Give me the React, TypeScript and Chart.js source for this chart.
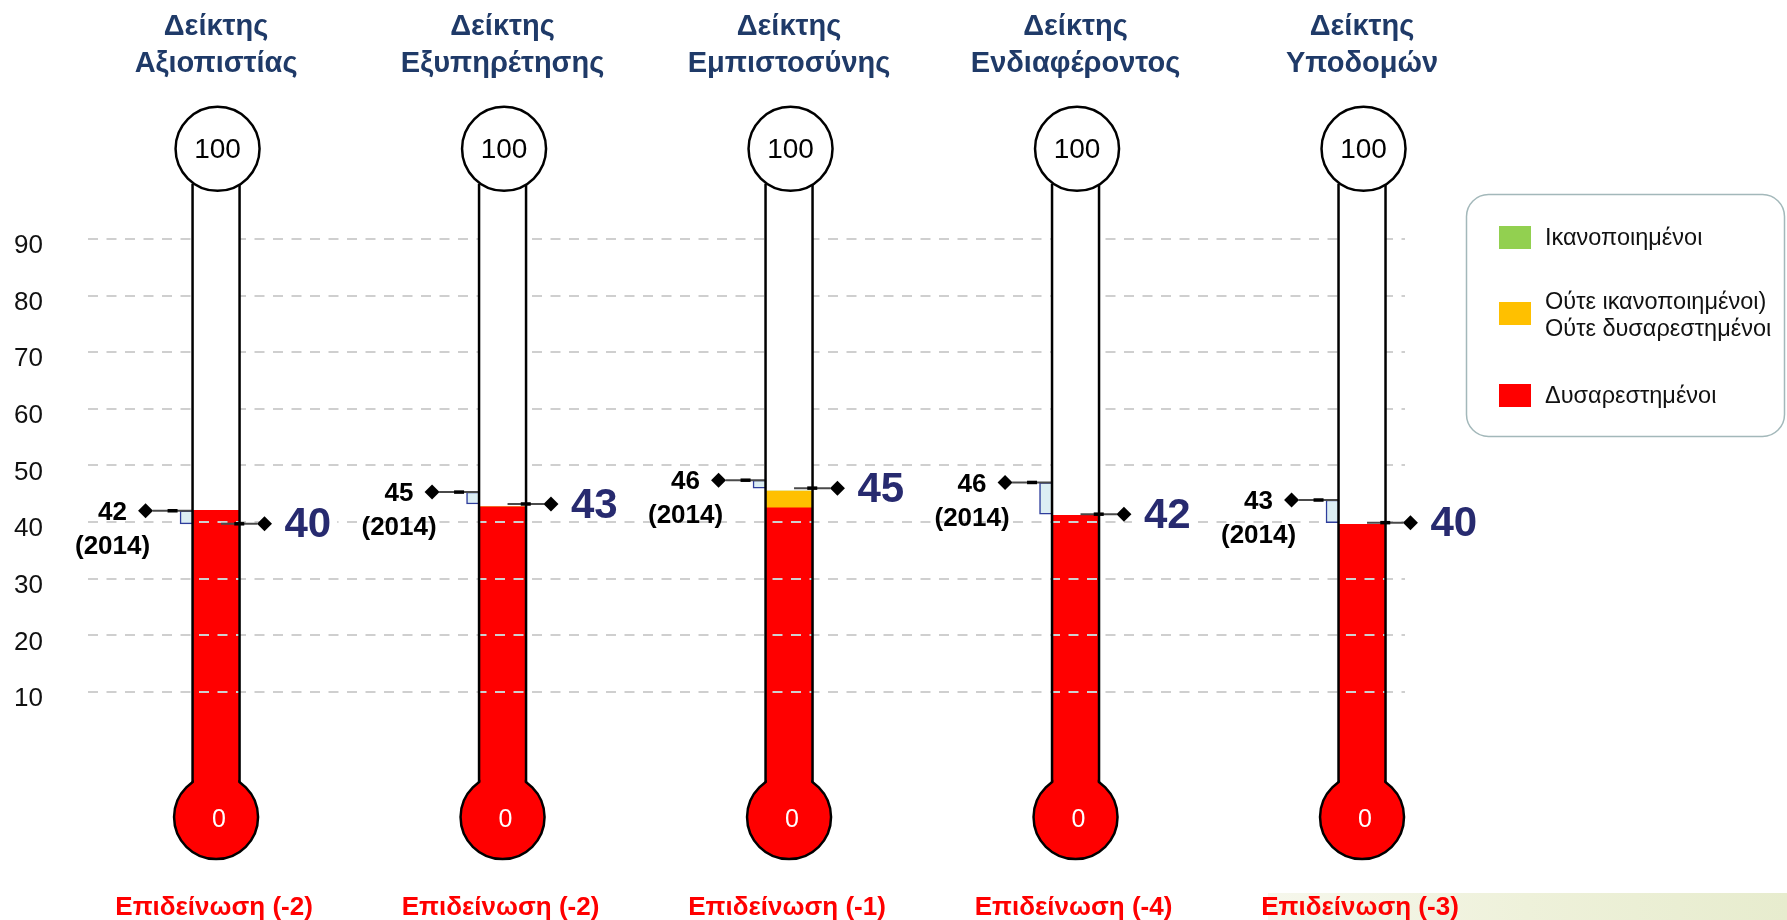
import React, { useEffect, useRef } from 'react';
import { Chart, registerables } from 'chart.js';

Chart.register(...registerables);

// ---------------- data ----------------
const TITLE_LINE1 = 'Δείκτης';
const INDEX_NAMES = ['Αξιοπιστίας', 'Εξυπηρέτησης', 'Εμπιστοσύνης', 'Ενδιαφέροντος', 'Υποδομών'];
const POSITIONS = [0, 1, 2, 3, 4];
const DISSATISFIED = [42.1, 42.7, 42.5, 41.2, 39.6];
const NEUTRAL = [0, 0, 3.0, 0, 0];
const SATISFIED = [0, 0, 0, 0, 0];
const CURRENT_SCORE = [39.7, 43.2, 46.0, 41.4, 39.9];
const CURRENT_LABELS = ['40', '43', '45', '42', '40'];
const PREV_SCORE = [42.0, 45.3, 47.4, 47.0, 43.9];
const PREV_LABELS = ['42', '45', '46', '46', '43'];
const PREV_YEAR = '(2014)';
const CHANGE_LABELS = ['Επιδείνωση (-2)', 'Επιδείνωση (-2)', 'Επιδείνωση (-1)', 'Επιδείνωση (-4)', 'Επιδείνωση (-3)'];
const Y_TICKS = [10, 20, 30, 40, 50, 60, 70, 80, 90];
const GAUGE_MIN = 0;
const GAUGE_MAX = 100;
const GAUGE_MIN_LABEL = '0';
const GAUGE_MAX_LABEL = '100';
const LEGEND_LABELS = [['Ικανοποιημένοι'], ['Ούτε ικανοποιημένοι)', 'Ούτε δυσαρεστημένοι'], ['Δυσαρεστημένοι']];
const LEGEND_COLORS = ['#92D050', '#FFC000', '#FF0000'];

// ---------------- style / layout ----------------
const FONT = '"Liberation Sans", Arial, Helvetica, sans-serif';
const X_MIN = -0.447;
const X_MAX = 4.15;
const Y_MIN = -20;
const Y_MAX = 110;
const TUBE_HALF = 23.5;
const BULB_R = 42;
const OUTLINE = 2.5;
const LEFT_MARK_OFF = -0.246;
const RIGHT_MARK_OFF = 0.169;
const BRACKET_OFF = -0.103;
const FILL_BASE = -6;
const GRID_COLOR = '#CFCFCF';
const GRID_DASH = [10, 8.5];
const PX0 = 748.6;
const PX_PER_UNIT = 5.6625;
const PAD_TOP = PX0 - Y_MAX * PX_PER_UNIT;
const PAD_BOTTOM = 920 - (PX0 - Y_MIN * PX_PER_UNIT);
const TOP_CIRCLE_OFF = 33.5;
const BULB_OFF = 68.5;

const alignPx = (p: number, w: number) => Math.round(p - w / 2) + w / 2;

function markerLine(ctx: CanvasRenderingContext2D, x1: number, x2: number, y: number) {
  ctx.save();
  ctx.setLineDash([]);
  ctx.strokeStyle = '#4a4a4a';
  ctx.lineWidth = 2;
  ctx.beginPath();
  ctx.moveTo(x1, y);
  ctx.lineTo(x2, y);
  ctx.stroke();
  const mid = (x1 + x2) / 2;
  ctx.strokeStyle = '#000';
  ctx.lineWidth = 3.5;
  ctx.beginPath();
  ctx.moveTo(mid - 5, y);
  ctx.lineTo(mid + 5, y);
  ctx.stroke();
  ctx.restore();
}

const thermoPlugin = {
  id: 'thermo',
  beforeDraw(chart: any) {
    const ctx: CanvasRenderingContext2D = chart.ctx;
    ctx.save();
    ctx.fillStyle = '#fff';
    ctx.fillRect(0, 0, chart.width, chart.height);
    const g = ctx.createLinearGradient(1268, 0, 1787, 0);
    g.addColorStop(0, '#F6F7EC');
    g.addColorStop(0.5, '#EEF1DA');
    g.addColorStop(1, '#E7ECCE');
    ctx.fillStyle = g;
    ctx.fillRect(1268, 893, 519, 27);
    ctx.restore();
  },
  beforeDatasetsDraw(chart: any) {
    const ctx: CanvasRenderingContext2D = chart.ctx;
    const xs = chart.scales.x;
    const ys = chart.scales.y;
    const y0 = ys.getPixelForValue(GAUGE_MIN);
    const y100 = ys.getPixelForValue(GAUGE_MAX);
    const topCy = y100 - TOP_CIRCLE_OFF;
    const bulbCy = y0 + BULB_OFF;
    const dj = Math.sqrt(BULB_R * BULB_R - TUBE_HALF * TUBE_HALF);
    ctx.save();
    ctx.fillStyle = '#fff';
    POSITIONS.forEach((p, i) => {
      const cx = xs.getPixelForValue(p);
      ctx.fillRect(cx - TUBE_HALF, topCy + dj - 2, TUBE_HALF * 2, bulbCy - topCy - 2 * dj + 4);
      // white box behind current value label
      ctx.font = `bold 42px ${FONT}`;
      const w = ctx.measureText(CURRENT_LABELS[i]).width;
      const xr = xs.getPixelForValue(p + RIGHT_MARK_OFF);
      const yc = ys.getPixelForValue(CURRENT_SCORE[i]);
      ctx.fillRect(xr + 8, yc - 12, 12 + w + 6, 24);
    });
    ctx.restore();
  },
  afterDatasetsDraw(chart: any) {
    const ctx: CanvasRenderingContext2D = chart.ctx;
    const area = chart.chartArea;
    const xs = chart.scales.x;
    const ys = chart.scales.y;
    const y0 = ys.getPixelForValue(GAUGE_MIN);
    const y100 = ys.getPixelForValue(GAUGE_MAX);
    const topCy = y100 - TOP_CIRCLE_OFF;
    const bulbCy = y0 + BULB_OFF;
    const dj = Math.sqrt(BULB_R * BULB_R - TUBE_HALF * TUBE_HALF);

    POSITIONS.forEach((p, i) => {
      const cx = xs.getPixelForValue(p);
      // grid lines visible over the coloured fill
      const fillTop = ys.getPixelForValue(DISSATISFIED[i] + NEUTRAL[i] + SATISFIED[i]);
      const fillBottom = ys.getPixelForValue(FILL_BASE);
      ctx.save();
      ctx.beginPath();
      ctx.rect(cx - TUBE_HALF, fillTop, TUBE_HALF * 2, fillBottom - fillTop);
      ctx.clip();
      ctx.strokeStyle = GRID_COLOR;
      ctx.lineWidth = 2;
      ctx.setLineDash(GRID_DASH);
      ys.ticks.forEach((t: any) => {
        const y = alignPx(ys.getPixelForValue(t.value), 2);
        ctx.beginPath();
        ctx.moveTo(area.left, y);
        ctx.lineTo(area.right, y);
        ctx.stroke();
      });
      ctx.restore();

      // marker lines
      const yc = ys.getPixelForValue(CURRENT_SCORE[i]);
      const xr = xs.getPixelForValue(p + RIGHT_MARK_OFF);
      markerLine(ctx, cx + 5, xr - 7, yc);
      const yp = ys.getPixelForValue(PREV_SCORE[i]);
      const xl = xs.getPixelForValue(p + LEFT_MARK_OFF);
      markerLine(ctx, xl + 7, cx - TUBE_HALF, yp);

      ctx.save();
      ctx.setLineDash([]);
      ctx.lineWidth = OUTLINE;
      ctx.strokeStyle = '#000';
      // bulb
      ctx.beginPath();
      ctx.arc(cx, bulbCy, BULB_R, 0, Math.PI * 2);
      ctx.fillStyle = '#FF0000';
      ctx.fill();
      ctx.stroke();
      ctx.fillStyle = '#FF0000';
      ctx.fillRect(cx - TUBE_HALF + 1.3, bulbCy - BULB_R - 3, 2 * (TUBE_HALF - 1.3), BULB_R - dj + 5);
      // tube sides
      ctx.beginPath();
      ctx.moveTo(cx - TUBE_HALF, topCy + dj);
      ctx.lineTo(cx - TUBE_HALF, bulbCy - dj);
      ctx.moveTo(cx + TUBE_HALF, topCy + dj);
      ctx.lineTo(cx + TUBE_HALF, bulbCy - dj);
      ctx.stroke();
      // top circle
      ctx.beginPath();
      ctx.arc(cx + 1.5, topCy, BULB_R, 0, Math.PI * 2);
      ctx.fillStyle = '#fff';
      ctx.fill();
      ctx.stroke();
      ctx.textAlign = 'center';
      ctx.textBaseline = 'middle';
      ctx.fillStyle = '#000';
      ctx.font = `28px ${FONT}`;
      ctx.fillText(GAUGE_MAX_LABEL, cx + 1.5, topCy + 1);
      ctx.fillStyle = '#fff';
      ctx.font = `25px ${FONT}`;
      ctx.fillText(GAUGE_MIN_LABEL, cx + 3, bulbCy + 3);
      ctx.restore();
    });
  },
  afterDraw(chart: any) {
    const ctx: CanvasRenderingContext2D = chart.ctx;
    const xs = chart.scales.x;
    const ys = chart.scales.y;
    ctx.save();
    POSITIONS.forEach((p, i) => {
      const cx = xs.getPixelForValue(p);
      // titles
      ctx.textAlign = 'center';
      ctx.textBaseline = 'alphabetic';
      ctx.fillStyle = '#1F3A68';
      ctx.font = `bold 29px ${FONT}`;
      ctx.fillText(TITLE_LINE1, cx, 35);
      ctx.fillText(INDEX_NAMES[i], cx, 72);
      // bottom change labels
      ctx.fillStyle = '#FF0000';
      ctx.font = `bold 26px ${FONT}`;
      ctx.fillText(CHANGE_LABELS[i], cx - 2, 915);
      // previous labels
      const yp = ys.getPixelForValue(PREV_SCORE[i]);
      const xl = xs.getPixelForValue(p + LEFT_MARK_OFF);
      ctx.textBaseline = 'middle';
      ctx.fillStyle = '#000';
      ctx.font = `bold 26px ${FONT}`;
      ctx.fillText(PREV_LABELS[i], xl - 33, yp + 2);
      ctx.fillText(PREV_YEAR, xl - 33, yp + 36);
      // current labels
      const yc = ys.getPixelForValue(CURRENT_SCORE[i]);
      const xr = xs.getPixelForValue(p + RIGHT_MARK_OFF);
      ctx.textAlign = 'left';
      ctx.fillStyle = '#272A6F';
      ctx.font = `bold 42px ${FONT}`;
      ctx.fillText(CURRENT_LABELS[i], xr + 20, yc + 2);
    });

    // legend
    ctx.beginPath();
    (ctx as any).roundRect(1466.5, 194.5, 318, 242, 22);
    ctx.fillStyle = '#fff';
    ctx.fill();
    ctx.strokeStyle = '#A3B8BA';
    ctx.lineWidth = 1.5;
    ctx.stroke();
    const swatchTop = [226, 302, 384];
    const textYs = [[239], [303, 330], [397]];
    LEGEND_LABELS.forEach((lines, k) => {
      ctx.fillStyle = LEGEND_COLORS[k];
      ctx.fillRect(1499, swatchTop[k], 32, 23);
      ctx.fillStyle = '#111';
      ctx.font = `23.5px ${FONT}`;
      ctx.textAlign = 'left';
      ctx.textBaseline = 'middle';
      lines.forEach((ln, j) => ctx.fillText(ln, 1545, textYs[k][j]));
    });
    ctx.restore();
  },
};

export default function App() {
  const ref = useRef<HTMLCanvasElement>(null);
  useEffect(() => {
    document.body.style.margin = '0';
    const canvas = ref.current;
    if (!canvas) return;
    Chart.defaults.font.family = FONT;
    const chart = new Chart(canvas, {
      type: 'bar',
      data: {
        datasets: [
          {
            type: 'scatter',
            label: '2014',
            data: POSITIONS.map((p, i) => ({ x: p + LEFT_MARK_OFF, y: PREV_SCORE[i] })),
            pointStyle: 'rectRot',
            pointRadius: 7.5,
            pointHoverRadius: 7.5,
            pointBackgroundColor: '#000',
            pointBorderWidth: 0,
            backgroundColor: '#000',
            borderColor: '#000',
            clip: false,
            order: 0,
          } as any,
          {
            type: 'scatter',
            label: 'current',
            data: POSITIONS.map((p, i) => ({ x: p + RIGHT_MARK_OFF, y: CURRENT_SCORE[i] })),
            pointStyle: 'rectRot',
            pointRadius: 7.5,
            pointHoverRadius: 7.5,
            pointBackgroundColor: '#000',
            pointBorderWidth: 0,
            backgroundColor: '#000',
            borderColor: '#000',
            clip: false,
            order: 0,
          } as any,
          {
            type: 'bar',
            label: 'change',
            data: POSITIONS.map((p, i) => ({ x: p + BRACKET_OFF, y: [CURRENT_SCORE[i], PREV_SCORE[i]] })),
            backgroundColor: '#DCEEF3',
            borderColor: '#2E3D9C',
            borderWidth: 1.5,
            borderSkipped: false,
            barThickness: 13,
            grouped: false,
            order: 1,
          } as any,
          {
            type: 'bar',
            label: LEGEND_LABELS[2][0],
            data: POSITIONS.map((p, i) => ({ x: p, y: DISSATISFIED[i] })),
            backgroundColor: LEGEND_COLORS[2],
            borderWidth: 0,
            barThickness: 46,
            grouped: false,
            stack: 'fill',
            base: FILL_BASE,
            order: 2,
          } as any,
          {
            type: 'bar',
            label: LEGEND_LABELS[1].join(' '),
            data: POSITIONS.map((p, i) => ({ x: p, y: NEUTRAL[i] })),
            backgroundColor: LEGEND_COLORS[1],
            borderWidth: 0,
            barThickness: 46,
            grouped: false,
            stack: 'fill',
            order: 2,
          } as any,
          {
            type: 'bar',
            label: LEGEND_LABELS[0][0],
            data: POSITIONS.map((p, i) => ({ x: p, y: SATISFIED[i] })),
            backgroundColor: LEGEND_COLORS[0],
            borderWidth: 0,
            barThickness: 46,
            grouped: false,
            stack: 'fill',
            order: 2,
          } as any,
        ],
      },
      options: {
        responsive: false,
        animation: false,
        events: [],
        layout: { padding: { left: 14, right: 382, top: PAD_TOP, bottom: PAD_BOTTOM } },
        plugins: { legend: { display: false }, tooltip: { enabled: false }, title: { display: false } },
        scales: {
          x: { type: 'linear', min: X_MIN, max: X_MAX, display: false, offset: false },
          y: {
            type: 'linear',
            min: Y_MIN,
            max: Y_MAX,
            afterBuildTicks: (axis: any) => {
              axis.ticks = Y_TICKS.map((v) => ({ value: v }));
            },
            afterFit: (axis: any) => {
              axis.width = 74;
            },
            grid: { color: GRID_COLOR, lineWidth: 2, drawTicks: false, z: -1 },
            border: { display: false, dash: GRID_DASH },
            ticks: {
              font: { size: 26, family: FONT },
              color: '#111',
              crossAlign: 'far',
              labelOffset: 7,
              padding: 0,
              autoSkip: false,
            },
          } as any,
        },
      } as any,
      plugins: [thermoPlugin as any],
    });
    return () => chart.destroy();
  }, []);
  return (
    <div style={{ position: 'absolute', left: 0, top: 0, width: 1787, height: 920, background: '#fff' }}>
      <canvas ref={ref} width={1787} height={920} style={{ display: 'block', width: 1787, height: 920 }} />
    </div>
  );
}
